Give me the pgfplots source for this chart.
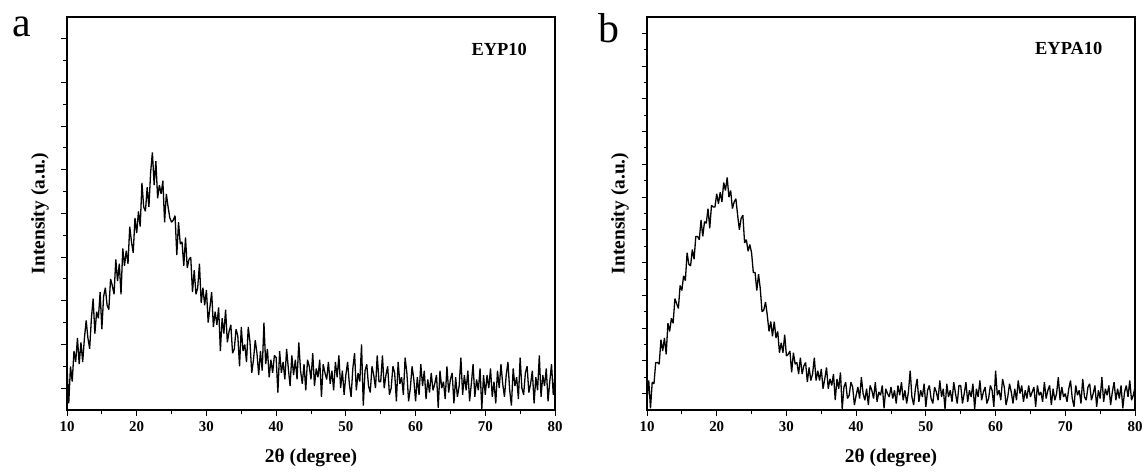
\documentclass[border=0pt]{standalone}
\usepackage{fontspec}
\setmainfont{Liberation Serif}
\usepackage{pgfplots}
\usepackage{pgfplotstable}
\pgfplotsset{compat=1.18}

% EYP10, 2theta vs intensity (a.u.)
\pgfplotstableread[row sep=\\]{x y\\
10 2.0\\ 10.25 0.3\\ 10.5 2.0\\ 10.75 1.3\\ 11 2.7\\ 11.25 2.2\\ 11.5 3.3\\ 11.75 2.1\\ 12 3.1\\ 12.25 2.2\\
12.5 3.3\\ 12.75 4.1\\ 13 3.3\\ 13.25 2.8\\ 13.5 4.2\\ 13.75 5.1\\ 14 3.5\\ 14.25 4.5\\ 14.5 4.2\\ 14.75 5.4\\
15 3.7\\ 15.25 5.2\\ 15.5 5.6\\ 15.75 4.8\\ 16 4.6\\ 16.25 6.0\\ 16.5 5.7\\ 16.75 5.3\\ 17 6.9\\ 17.25 5.9\\
17.5 6.7\\ 17.75 5.3\\ 18 7.4\\ 18.25 6.6\\ 18.5 7.3\\ 18.75 6.7\\ 19 8.4\\ 19.25 7.7\\ 19.5 7.2\\ 19.75 8.8\\
20 8.1\\ 20.25 9.1\\ 20.5 8.4\\ 20.75 10.4\\ 21 9.3\\ 21.25 9.1\\ 21.5 10.2\\ 21.75 9.3\\ 22 10.9\\ 22.25 11.8\\
22.5 10.3\\ 22.75 11.4\\ 23 9.7\\ 23.25 10.3\\ 23.5 9.9\\ 23.75 10.5\\ 24 8.6\\ 24.25 9.9\\ 24.5 9.3\\ 24.75 8.8\\
25 8.6\\ 25.25 8.7\\ 25.5 8.9\\ 25.75 7.1\\ 26 8.6\\ 26.25 7.6\\ 26.5 7.7\\ 26.75 6.6\\ 27 7.9\\ 27.25 6.5\\
27.5 6.9\\ 27.75 7.0\\ 28 5.4\\ 28.25 6.4\\ 28.5 5.3\\ 28.75 5.6\\ 29 6.7\\ 29.25 4.9\\ 29.5 5.6\\ 29.75 4.8\\
30 5.5\\ 30.25 4.0\\ 30.5 4.7\\ 30.75 5.4\\ 31 3.8\\ 31.25 4.5\\ 31.5 3.9\\ 31.75 4.7\\ 32 2.7\\ 32.25 4.2\\
32.5 3.5\\ 32.75 4.6\\ 33 3.1\\ 33.25 3.6\\ 33.5 3.9\\ 33.75 2.6\\ 34 2.8\\ 34.25 3.7\\ 34.5 3.4\\ 34.75 2.0\\
35 3.8\\ 35.25 2.7\\ 35.5 3.0\\ 35.75 2.2\\ 36 3.8\\ 36.25 3.1\\ 36.5 1.7\\ 36.75 2.3\\ 37 3.2\\ 37.25 2.6\\
37.5 1.6\\ 37.75 2.7\\ 38 1.8\\ 38.25 4.0\\ 38.5 2.1\\ 38.75 2.8\\ 39 1.5\\ 39.25 2.3\\ 39.5 1.7\\ 39.75 2.5\\
40 2.4\\ 40.25 0.8\\ 40.5 2.7\\ 40.75 1.7\\ 41 2.2\\ 41.25 1.4\\ 41.5 2.8\\ 41.75 1.9\\ 42 1.1\\ 42.25 2.5\\
42.5 1.6\\ 42.75 2.3\\ 43 1.4\\ 43.25 3.1\\ 43.5 1.8\\ 43.75 1.2\\ 44 2.1\\ 44.25 0.9\\ 44.5 2.3\\ 44.75 2.0\\
45 1.4\\ 45.25 2.6\\ 45.5 1.1\\ 45.75 1.9\\ 46 1.5\\ 46.25 2.3\\ 46.5 0.6\\ 46.75 2.1\\ 47 1.7\\ 47.25 1.4\\
47.5 2.2\\ 47.75 1.2\\ 48 1.8\\ 48.25 0.9\\ 48.5 2.2\\ 48.75 1.5\\ 49 2.5\\ 49.25 1.0\\ 49.5 1.8\\ 49.75 0.7\\
50 1.6\\ 50.25 2.2\\ 50.5 1.2\\ 50.75 0.6\\ 51 1.9\\ 51.25 2.6\\ 51.5 0.9\\ 51.75 1.7\\ 52 1.3\\ 52.25 3.0\\
52.5 0.2\\ 52.75 1.8\\ 53 2.1\\ 53.25 1.1\\ 53.5 0.8\\ 53.75 2.0\\ 54 1.6\\ 54.25 1.0\\ 54.5 2.5\\ 54.75 1.3\\
55 1.3\\ 55.25 2.5\\ 55.5 1.0\\ 55.75 1.6\\ 56 2.0\\ 56.25 0.7\\ 56.5 1.0\\ 56.75 2.0\\ 57 1.7\\ 57.25 0.4\\
57.5 2.2\\ 57.75 1.2\\ 58 1.5\\ 58.25 0.7\\ 58.5 2.4\\ 58.75 1.7\\ 59 0.4\\ 59.25 1.0\\ 59.5 2.0\\ 59.75 1.4\\
60 0.4\\ 60.25 1.5\\ 60.5 0.7\\ 60.75 2.1\\ 61 1.1\\ 61.25 1.8\\ 61.5 0.5\\ 61.75 1.4\\ 62 0.8\\ 62.25 1.7\\
62.5 0.9\\ 62.75 1.2\\ 63 1.6\\ 63.25 0.1\\ 63.5 1.8\\ 63.75 1.0\\ 64 1.3\\ 64.25 0.5\\ 64.5 2.0\\ 64.75 0.8\\
65 1.4\\ 65.25 1.7\\ 65.5 0.3\\ 65.75 1.5\\ 66 0.6\\ 66.25 1.1\\ 66.5 2.4\\ 66.75 0.7\\ 67 1.6\\ 67.25 0.9\\
67.5 1.8\\ 67.75 0.4\\ 68 1.2\\ 68.25 2.1\\ 68.5 0.6\\ 68.75 1.4\\ 69 0.9\\ 69.25 1.9\\ 69.5 0.05\\ 69.75 1.6\\
70 0.7\\ 70.25 1.6\\ 70.5 1.0\\ 70.75 1.9\\ 71 0.6\\ 71.25 1.3\\ 71.5 0.3\\ 71.75 1.8\\ 72 1.0\\ 72.25 2.1\\
72.5 1.2\\ 72.75 0.6\\ 73 1.6\\ 73.25 2.2\\ 73.5 0.9\\ 73.75 0.2\\ 74 1.9\\ 74.25 1.1\\ 74.5 1.5\\ 74.75 0.5\\
75 2.4\\ 75.25 1.0\\ 75.5 0.7\\ 75.75 1.7\\ 76 2.0\\ 76.25 0.8\\ 76.5 1.2\\ 76.75 1.8\\ 77 0.3\\ 77.25 1.5\\
77.5 0.9\\ 77.75 2.5\\ 78 0.6\\ 78.25 1.6\\ 78.5 1.1\\ 78.75 1.9\\ 79 0.4\\ 79.25 1.3\\ 79.5 2.1\\ 79.75 0.7\\
80 1.6\\
}\eypten

% EYPA10
\pgfplotstableread[row sep=\\]{x y\\
10 0.6\\ 10.25 1.8\\ 10.5 0.1\\ 10.75 1.7\\ 11 1.6\\ 11.25 2.9\\ 11.5 2.9\\ 11.75 2.8\\ 12 4.3\\ 12.25 3.6\\
12.5 4.4\\ 12.75 3.4\\ 13 5.3\\ 13.25 4.8\\ 13.5 5.6\\ 13.75 5.3\\ 14 6.8\\ 14.25 6.5\\ 14.5 6.2\\ 14.75 7.6\\
15 7.3\\ 15.25 8.2\\ 15.5 7.9\\ 15.75 9.6\\ 16 8.9\\ 16.25 8.8\\ 16.5 9.8\\ 16.75 9.2\\ 17 10.6\\ 17.25 10.6\\
17.5 10.4\\ 17.75 11.6\\ 18 10.6\\ 18.25 11.5\\ 18.5 11.4\\ 18.75 12.3\\ 19 11.1\\ 19.25 12.5\\ 19.5 12.4\\ 19.75 12.4\\
20 13.2\\ 20.25 12.6\\ 20.5 13.3\\ 20.75 12.7\\ 21 13.9\\ 21.25 13.4\\ 21.5 14.2\\ 21.75 13.0\\ 22 13.4\\ 22.25 12.3\\
22.5 12.7\\ 22.75 12.9\\ 23 11.9\\ 23.25 11.0\\ 23.5 11.7\\ 23.75 11.9\\ 24 10.2\\ 24.25 10.4\\ 24.5 9.7\\ 24.75 10.1\\
25 9.6\\ 25.25 8.4\\ 25.5 8.4\\ 25.75 7.3\\ 26 8.3\\ 26.25 7.4\\ 26.5 6.0\\ 26.75 6.1\\ 27 6.6\\ 27.25 5.8\\
27.5 4.8\\ 27.75 5.4\\ 28 4.5\\ 28.25 5.4\\ 28.5 4.4\\ 28.75 4.8\\ 29 3.5\\ 29.25 4.1\\ 29.5 3.5\\ 29.75 4.6\\
30 3.3\\ 30.25 3.4\\ 30.5 3.6\\ 30.75 2.3\\ 31 3.5\\ 31.25 2.8\\ 31.5 2.9\\ 31.75 2.2\\ 32 3.2\\ 32.25 2.2\\
32.5 2.7\\ 32.75 2.9\\ 33 1.7\\ 33.25 2.6\\ 33.5 1.8\\ 33.75 2.2\\ 34 3.2\\ 34.25 1.8\\ 34.5 2.4\\ 34.75 1.8\\
35 2.5\\ 35.25 1.3\\ 35.5 1.9\\ 35.75 2.6\\ 36 1.3\\ 36.25 1.9\\ 36.5 1.5\\ 36.75 2.2\\ 37 0.6\\ 37.25 1.9\\
37.5 1.3\\ 37.75 2.3\\ 38 0.05\\ 38.25 1.4\\ 38.5 1.7\\ 38.75 0.7\\ 39 0.9\\ 39.25 1.7\\ 39.5 1.4\\ 39.75 0.3\\
40 0.9\\ 40.25 1.4\\ 40.5 0.7\\ 40.75 2.0\\ 41 1.0\\ 41.25 0.6\\ 41.5 1.3\\ 41.75 0.3\\ 42 1.5\\ 42.25 1.2\\
42.5 0.7\\ 42.75 1.7\\ 43 0.5\\ 43.25 1.1\\ 43.5 0.9\\ 43.75 1.5\\ 44 0.1\\ 44.25 1.3\\ 44.5 1.0\\ 44.75 0.8\\
45 1.4\\ 45.25 0.7\\ 45.5 1.2\\ 45.75 0.4\\ 46 1.5\\ 46.25 0.9\\ 46.5 1.7\\ 46.75 0.6\\ 47 1.2\\ 47.25 0.4\\
47.5 1.1\\ 47.75 2.4\\ 48 0.8\\ 48.25 0.3\\ 48.5 1.3\\ 48.75 1.9\\ 49 0.5\\ 49.25 1.2\\ 49.5 0.8\\ 49.75 1.6\\
50 0.2\\ 50.25 1.2\\ 50.5 1.5\\ 50.75 0.7\\ 51 0.4\\ 51.25 1.4\\ 51.5 1.1\\ 51.75 0.6\\ 52 1.8\\ 52.25 0.8\\
52.5 1.3\\ 52.75 0.05\\ 53 1.6\\ 53.25 0.8\\ 53.5 1.2\\ 53.75 0.5\\ 54 1.7\\ 54.25 1.0\\ 54.5 0.4\\ 54.75 1.5\\
55 1.5\\ 55.25 0.4\\ 55.5 1.0\\ 55.75 1.7\\ 56 0.5\\ 56.25 1.2\\ 56.5 0.8\\ 56.75 1.6\\ 57 0.05\\ 57.25 1.3\\
57.5 0.8\\ 57.75 1.8\\ 58 0.6\\ 58.25 1.1\\ 58.5 1.4\\ 58.75 0.4\\ 59 0.7\\ 59.25 1.5\\ 59.5 1.2\\ 59.75 0.2\\
60 2.4\\ 60.25 0.9\\ 60.5 1.2\\ 60.75 0.6\\ 61 1.9\\ 61.25 1.4\\ 61.5 0.3\\ 61.75 0.8\\ 62 1.6\\ 62.25 1.1\\
62.5 0.4\\ 62.75 1.3\\ 63 0.6\\ 63.25 1.8\\ 63.5 1.0\\ 63.75 1.5\\ 64 0.5\\ 64.25 1.2\\ 64.5 0.7\\ 64.75 1.5\\
65 0.8\\ 65.25 1.1\\ 65.5 1.4\\ 65.75 0.2\\ 66 1.5\\ 66.25 0.9\\ 66.5 1.1\\ 66.75 0.5\\ 67 1.7\\ 67.25 0.7\\
67.5 1.2\\ 67.75 1.5\\ 68 0.3\\ 68.25 1.3\\ 68.5 0.6\\ 68.75 1.0\\ 69 2.0\\ 69.25 0.6\\ 69.5 1.4\\ 69.75 0.8\\
70 1.0\\ 70.25 0.5\\ 70.5 1.3\\ 70.75 1.8\\ 71 0.7\\ 71.25 0.2\\ 71.5 1.5\\ 71.75 0.9\\ 72 1.2\\ 72.25 0.4\\
72.5 1.9\\ 72.75 0.8\\ 73 0.6\\ 73.25 1.4\\ 73.5 1.6\\ 73.75 0.6\\ 74 1.0\\ 74.25 1.5\\ 74.5 0.2\\ 74.75 1.2\\
75 0.7\\ 75.25 2.0\\ 75.5 0.5\\ 75.75 1.3\\ 76 0.9\\ 76.25 1.5\\ 76.5 0.3\\ 76.75 1.1\\ 77 1.7\\ 77.25 0.6\\
77.5 1.3\\ 77.75 0.7\\ 78 1.5\\ 78.25 0.1\\ 78.5 1.1\\ 78.75 1.5\\ 79 0.8\\ 79.25 1.8\\ 79.5 0.6\\ 79.75 0.9\\
80 1.4\\
}\eypaten

\pgfplotsset{
  xrd/.style={
    scale only axis, width=488bp, height=393bp,
    xmin=10, xmax=80, ymin=0,
    xtick={10,20,...,80}, minor xtick={15,25,...,75},
    yticklabels={},
    tick pos=left, tick align=outside,
    major tick length=5.5bp, minor tick length=3.5bp,
    every tick/.style={black, line width=1bp},
    axis line style={line width=1.2bp},
    /pgf/number format/assume math mode=true,
    xticklabel style={font=\fontsize{15}{15}\selectfont\bfseries, yshift=-3bp},
    every axis x label/.style={at={([yshift=-48bp]axis description cs:0.5,0)}, anchor=center},
    every axis y label/.style={at={([xshift=-27bp]axis description cs:0,0.5)}, rotate=90, anchor=center},
    label style={font=\fontsize{19.5}{19.5}\selectfont\bfseries},
    xlabel={2θ (degree)}, ylabel={Intensity (a.u.)},
  },
  % thick enough that the zig-zag reads as the dense band of the scan
  scan/.style={black, line width=1.3bp, line join=bevel, mark=none},
}

\begin{document}
\begin{tikzpicture}
\path[use as bounding box] (-67bp,-62bp) rectangle (1078bp,410bp);
\begin{axis}[xrd, at={(0bp,0bp)}, anchor=south west, ymax=18,
    ytick={1,3,...,17}, minor ytick={2,4,...,16}]
\addplot[scan] table {\eypten};
\node[font=\fontsize{18.5}{18.5}\selectfont\bfseries] at (axis cs:72,16.5) {EYP10};
\end{axis}
\begin{axis}[xrd, at={(580bp,0bp)}, anchor=south west, ymax=24,
    ytick={1,3,...,23}, minor ytick={2,4,...,22}]
\addplot[scan] table {\eypaten};
\node[font=\fontsize{18.5}{18.5}\selectfont\bfseries] at (axis cs:70.5,22.1) {EYPA10};
\end{axis}
\node[font=\fontsize{42}{42}\selectfont, anchor=base] at (-45.5bp,373bp) {a};
\node[font=\fontsize{42}{42}\selectfont, anchor=base] at (542bp,367bp) {b};
\end{tikzpicture}
\end{document}
